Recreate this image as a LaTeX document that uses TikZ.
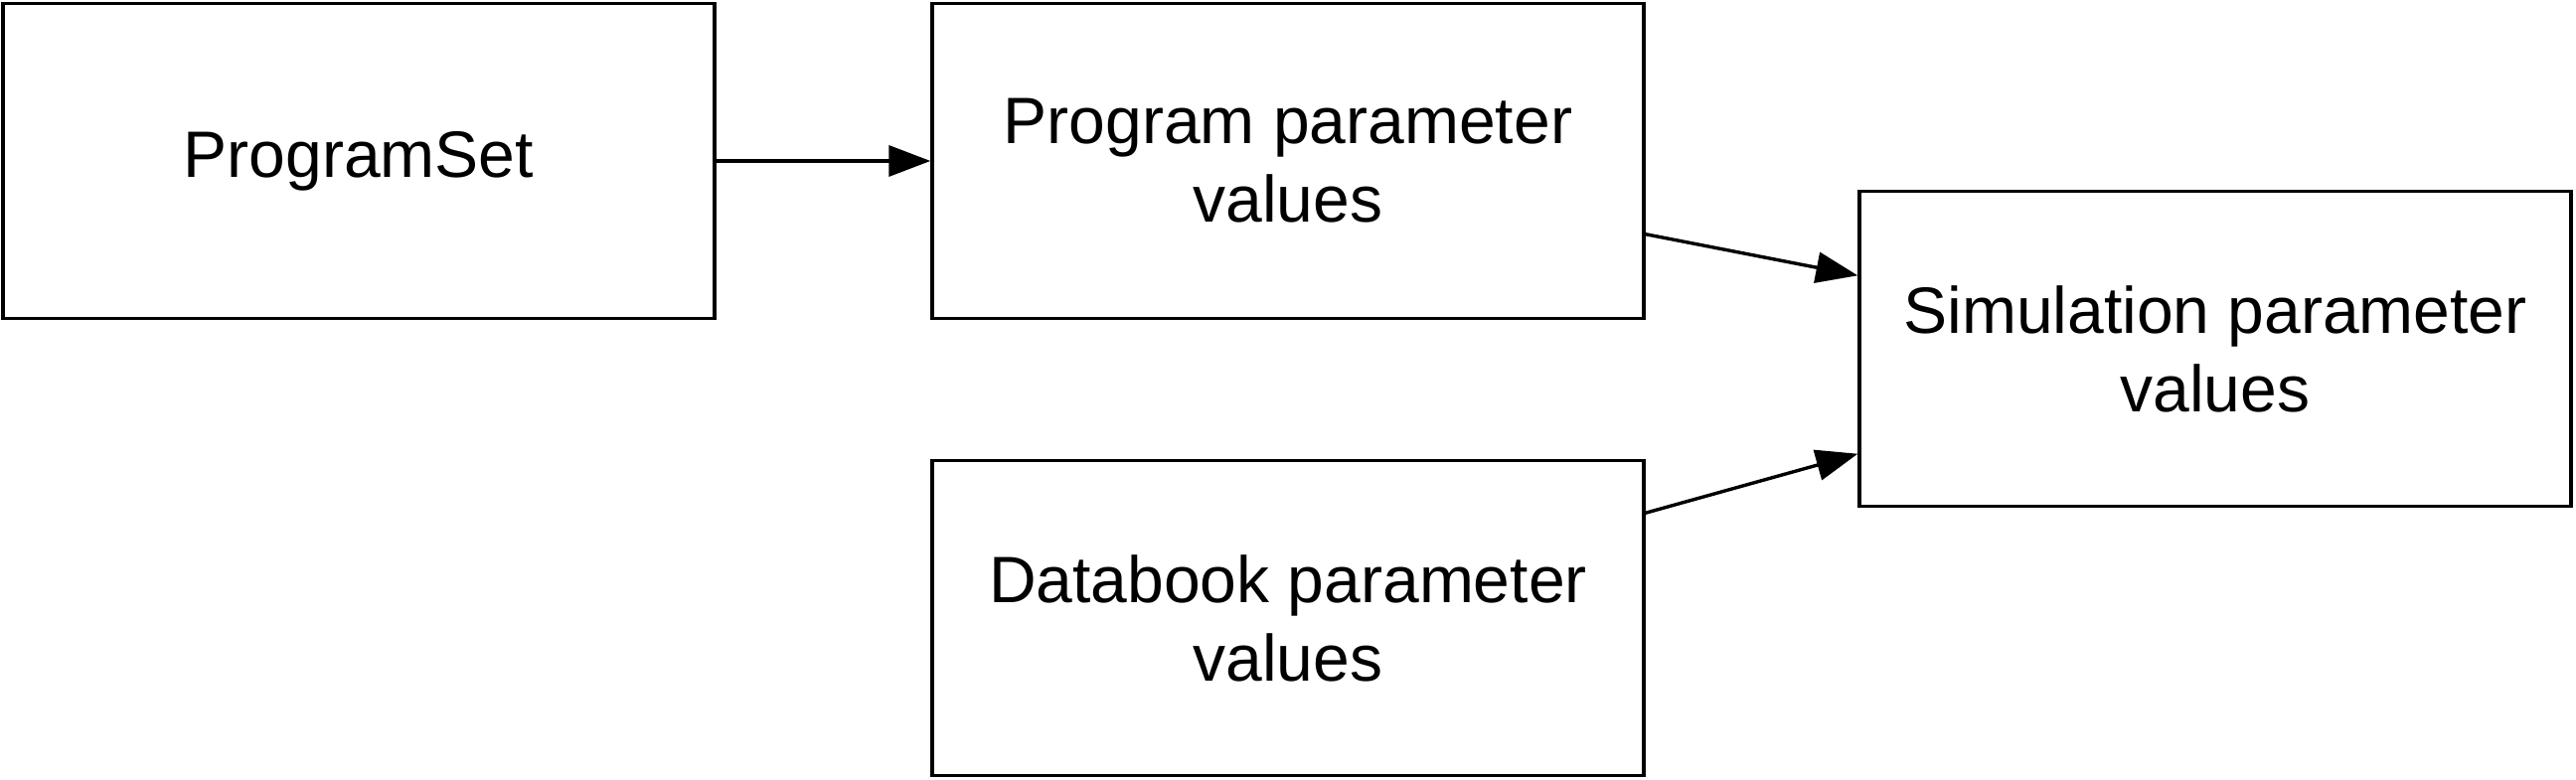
\documentclass[tikz,border=0pt]{standalone}
\usepackage{fontspec}
\setmainfont{Liberation Sans}
\usetikzlibrary{arrows.meta,calc}
\begin{document}
\begin{tikzpicture}[x=0.5pt,y=-0.5pt,
  box/.style={draw=black,line width=1.7pt,minimum width=358pt,minimum height=158.5pt,align=center,inner sep=0pt,font=\fontsize{33}{39.5}\selectfont},
  conn/.style={line width=1.7pt,-{Triangle[length=21pt,width=15.5pt]}}]
\useasboundingbox (0,0) rectangle (2592,785);
\node[box] (ps) at (361,162) {ProgramSet};
\node[box] (ppv) at (1296,162) {Program parameter\\values};
\node[box] (dpv) at (1296,622) {Databook parameter\\values};
\node[box] (spv) at (2229,351) {Simulation parameter\\values};
\draw[conn] (ps.east) -- (ppv.west);
\draw[conn] ($(ppv.north east)!0.73!(ppv.south east)$) -- ($(spv.north west)!0.27!(spv.south west)$);
\draw[conn] ($(dpv.north east)!0.17!(dpv.south east)$) -- ($(spv.north west)!0.83!(spv.south west)$);
\end{tikzpicture}
\end{document}
